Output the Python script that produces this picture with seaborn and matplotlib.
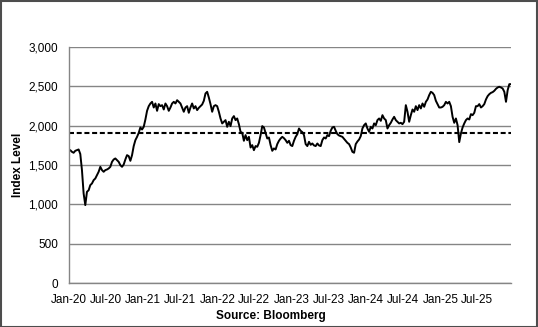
import matplotlib
matplotlib.use("Agg")
import matplotlib.pyplot as plt
import matplotlib.dates as mdates
import matplotlib.ticker as mticker
from matplotlib.patches import Rectangle
import numpy as np
import pandas as pd
import seaborn as sns

start_date = "2020-01-01"
end_date = "2025-12-14"
level_seg1 = [1680, 1688, 1667, 1655, 1680, 1688, 1697, 1640, 1435, 1139, 991, 1160, 1180, 1245, 1266,
              1308, 1329, 1371, 1414, 1477, 1435, 1414, 1435, 1443, 1456, 1477, 1540, 1570, 1583, 1562,
              1540, 1498, 1477, 1506, 1570, 1625, 1613, 1553, 1625, 1740, 1815, 1857, 1908]
level_seg2 = [1976, 1950, 1984, 2077, 2187, 2246, 2280, 2301, 2229, 2280, 2187, 2272, 2246, 2259, 2204,
              2280, 2246, 2187, 2229, 2280, 2301, 2280, 2322, 2301, 2280, 2229, 2175, 2229, 2246, 2162,
              2229, 2280, 2217, 2246, 2196, 2225, 2246, 2267, 2314, 2407, 2428, 2356, 2272, 2175, 2246]
level_seg3 = [2259, 2246, 2175, 2090, 2027, 2048, 2069, 1984, 2048, 1993, 2090, 2120, 2069, 2090, 2018,
              1921, 1908, 1807, 1879, 1815, 1857, 1722, 1752, 1688, 1740, 1731, 1781, 1879, 1993, 1976,
              1908, 1836, 1849, 1752, 1680, 1710, 1697, 1765, 1807, 1836, 1857, 1840, 1815, 1781]
level_seg4 = [1807, 1752, 1740, 1807, 1857, 1891, 1963, 1934, 1917, 1879, 1765, 1740, 1794, 1756, 1773,
              1748, 1740, 1773, 1748, 1740, 1815, 1849, 1836, 1879, 1866, 1934, 1976, 1984, 1934, 1891,
              1874, 1866, 1857, 1832, 1807, 1781, 1765, 1722, 1667, 1655, 1765, 1798, 1823, 1866, 1963]
level_seg5 = [2005, 2027, 1963, 1921, 1984, 1963, 2027, 2005, 2069, 2090, 2060, 2132, 2090, 2069, 1963,
              2005, 2035, 2077, 2111, 2069, 2048, 2027, 2035, 2018, 2048, 2259, 2175, 2048, 2132, 2204,
              2175, 2246, 2196, 2259, 2217, 2280, 2238, 2301, 2331, 2386, 2428, 2415, 2386, 2314]
level_seg6 = [2272, 2229, 2229, 2238, 2259, 2301, 2280, 2301, 2246, 2111, 2035, 2090, 2005, 1790, 1900,
              1976, 2027, 2069, 2090, 2077, 2145, 2132, 2162, 2246, 2246, 2272, 2229, 2246, 2272, 2331,
              2373, 2398, 2415, 2424, 2441, 2466, 2483, 2492, 2483, 2470, 2428, 2301, 2449, 2525, 2525]
average_level = 1900
y_ticks = [0, 500, 1000, 1500, 2000, 2500, 3000]
x_tick_dates = ["2020-01-01", "2020-07-01", "2021-01-01", "2021-07-01", "2022-01-01", "2022-07-01",
                "2023-01-01", "2023-07-01", "2024-01-01", "2024-07-01", "2025-01-01", "2025-07-01"]
y_label = "Index Level"
source_text = "Source: Bloomberg"

levels = level_seg1 + level_seg2 + level_seg3 + level_seg4 + level_seg5 + level_seg6
dates = pd.date_range(start_date, end_date, periods=len(levels))
df = pd.DataFrame({"date": dates, "level": levels})

# ---- style ----
sns.set_theme(style="white")
plt.rcParams["font.family"] = ["Liberation Sans", "DejaVu Sans"]

W, H = 538, 327
fig = plt.figure(figsize=(W / 100, H / 100), dpi=100)
ax = fig.add_axes([68.6 / W, 1 - 283.3 / H, (511 - 68.6) / W, (283.3 - 46.7) / H])

grid_c = "#858585"
ax.set_axisbelow(True)
ax.yaxis.grid(True, color=grid_c, linewidth=1.0)
ax.xaxis.grid(False)

sns.lineplot(data=df, x="date", y="level", ax=ax, color="black", linewidth=1.4)
ax.axhline(average_level, color="black", linewidth=1.5, linestyle=(0, (2.4, 1.3)))

ax.set_ylim(0, 3000)
ax.set_xlim(pd.Timestamp(start_date), pd.Timestamp(end_date))
ax.set_yticks(y_ticks)
ax.yaxis.set_major_formatter(mticker.FuncFormatter(lambda v, p: f"{int(v):,}"))
ax.set_xticks(pd.to_datetime(x_tick_dates))
ax.xaxis.set_major_formatter(mdates.DateFormatter("%b-%y"))

for s in ["top", "right"]:
    ax.spines[s].set_visible(False)
for s in ["left", "bottom"]:
    ax.spines[s].set_color(grid_c)
    ax.spines[s].set_linewidth(1.0)

ax.tick_params(axis="both", which="major", direction="out", length=3.5, width=1.0,
               color=grid_c, labelsize=8.5, labelcolor="black")
ax.tick_params(axis="y", pad=4)
ax.tick_params(axis="x", pad=4)

ax.set_xlabel("")
ax.set_ylabel(y_label, fontsize=8.5, fontweight="bold", color="black", labelpad=3)
fig.text(271 / W, 1 - 316 / H, source_text, ha="center", va="center",
         fontsize=8.5, fontweight="bold", color="black")

fig.patches.append(Rectangle((0.5 / W, 0.5 / H), (W - 1.5) / W, (H - 1.5) / H,
                             transform=fig.transFigure, fill=False,
                             edgecolor="#4d4d4d", linewidth=1.5))

fig.savefig("out.png", dpi=100)
